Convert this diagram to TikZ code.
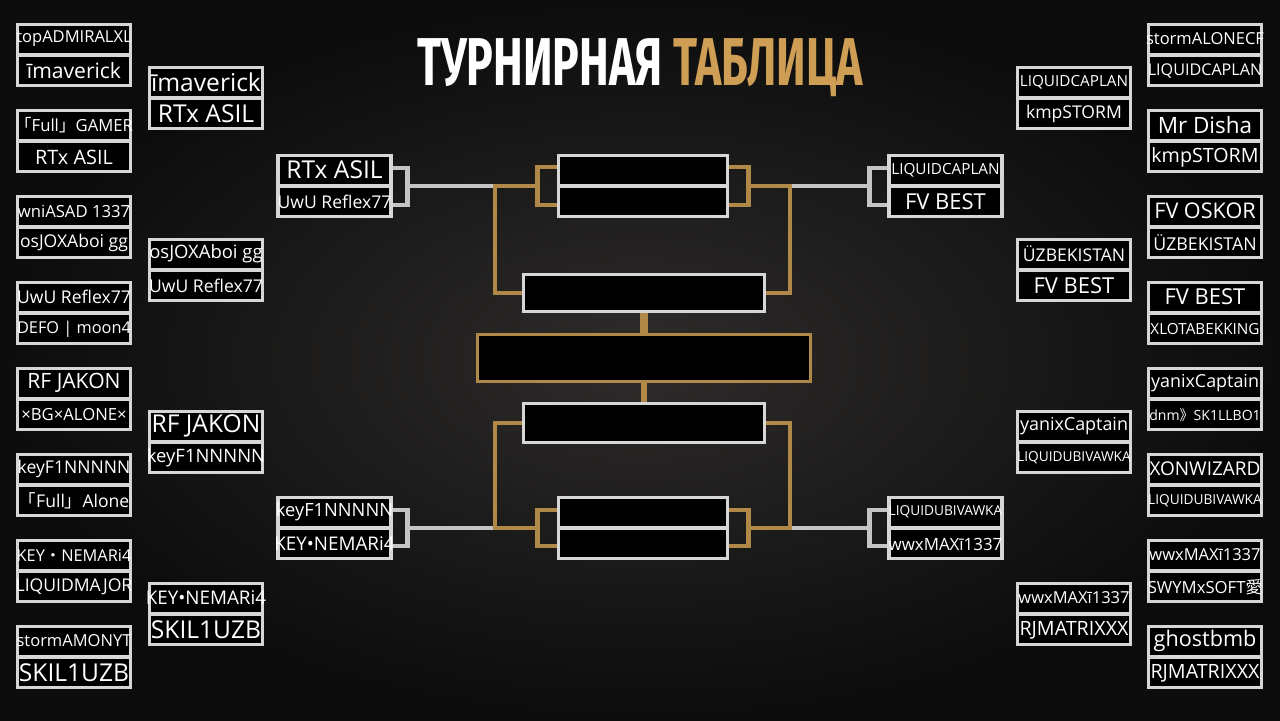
\documentclass[tikz,border=0pt]{standalone}
\usepackage{fontspec}
\usepackage{graphicx}
\setmainfont{Open Sans}
\newfontfamily\cjk{Noto Sans CJK SC}
\newfontfamily\zagl{Fira Sans}
\usetikzlibrary{calc,positioning}
\definecolor{fon}{RGB}{12,12,12}
\definecolor{fonsvet}{RGB}{46,44,43}
\definecolor{kant}{RGB}{214,214,214}
\definecolor{seryj}{RGB}{196,196,196}
\definecolor{zoloto}{RGB}{176,137,72}
\definecolor{zagzol}{RGB}{205,158,84}
\newcommand{\rz}[1]{\fontsize{#1}{#1}\selectfont}
\tikzset{
  para/.style={draw=kant,line width=2pt,fill=black,inner sep=0pt,minimum width=2.26cm,minimum height=1.22cm},
  ramka/.style={draw=kant,line width=2pt,fill=black,inner sep=0pt},
  razd/.style={draw=kant,line width=2pt},
  nik/.style={text=white,inner sep=0pt},
  ser/.style={draw=seryj,line width=2.8pt},
  zol/.style={draw=zoloto,line width=2.8pt},
}
% one match: name, centre (px), upper player, lower player
\newcommand{\igra}[4]{%
  \node[para] (#1) at (#2) {};
  \draw[razd] (#1.west) -- (#1.east);
  \node[nik] at ($(#1.center)+(0,-16)$) {#3};
  \node[nik] at ($(#1.center)+(0,16)$) {#4};
}

\begin{document}
\begin{tikzpicture}[x=0.02cm,y=-0.02cm]
  % fon
  \shade[inner color=fonsvet,outer color=fon] (0,0) rectangle (1280,720);
  \node[inner sep=0pt,text=white,anchor=base] (zag) at (640,85)
    {\resizebox{253.8pt}{26.7pt}{\zagl\bfseries ТУРНИРНАЯ \textcolor{zagzol}{ТАБЛИЦА}}};

  % left, round 1
  \igra{L1}{74,55}{\rz{9.4}topADMIRALXL}{\rz{12}īmaverick}
  \igra{L2}{74,141}{\rz{9.5}{\cjk 「}Full{\cjk 」}GAMER}{\rz{11.3}RTx ASIL}
  \igra{L3}{74,227}{\rz{9.5}wniASAD 1337}{\rz{10}osJOXAboi gg}
  \igra{L4}{74,313}{\rz{10}UwU Reflex77}{\rz{9.3}DEFO | moon4}
  \igra{L5}{74,399}{\rz{12}RF JAKON}{\rz{9.5}×BG×ALONE×}
  \igra{L6}{74,485}{\rz{10}keyF1NNNNN}{\rz{10}{\cjk 「}Full{\cjk 」}Alone}
  \igra{L7}{74,571}{\rz{9.3}KEY{\cjk ・}NEMARi4}{\rz{10}LIQUIDMAJOR}
  \igra{L8}{74,657}{\rz{9.4}stormAMONYT}{\rz{14}SKIL1UZB}
  % left, round 2
  \igra{L9}{206,98}{\rz{14}īmaverick}{\rz{14}RTx ASIL}
  \igra{L10}{206,270}{\rz{10.5}osJOXAboi gg}{\rz{10}UwU Reflex77}
  \igra{L11}{206,442}{\rz{14}RF JAKON}{\rz{10.5}keyF1NNNNN}
  \igra{L12}{206,614}{\rz{10.7}KEY•NEMARi4}{\rz{14}SKIL1UZB}
  % left, round 3
  \igra{L13}{334.5,186}{\rz{14}RTx ASIL}{\rz{10}UwU Reflex77}
  \igra{L14}{334.5,528}{\rz{10.4}keyF1NNNNN}{\rz{10.7}KEY•NEMARi4}

  % right, round 1
  \igra{R1}{1205,55}{\rz{9.4}stormALONECF}{\rz{9.2}LIQUIDCAPLAN}
  \igra{R2}{1205,141}{\rz{12.8}Mr Disha}{\rz{11.2}kmpSTORM}
  \igra{R3}{1205,227}{\rz{12.3}FV OSKOR}{\rz{10.1}ÜZBEKISTAN}
  \igra{R4}{1205,313}{\rz{12.5}FV BEST}{\rz{8.7}XLOTABEKKING}
  \igra{R5}{1205,399}{\rz{10.2}yanixCaptain}{\rz{8}dnm{\cjk 》}SK1LLBO1}
  \igra{R6}{1205,485}{\rz{10.8}XONWIZARD}{\rz{7.8}LIQUIDUBIVAWKA}
  \igra{R7}{1205,571}{\rz{9.4}wwxMAXī1337}{\rz{9.5}SWYMxSOFT{\cjk 愛}}
  \igra{R8}{1205,657}{\rz{12.3}ghostbmb}{\rz{11.2}RJMATRIXXX}
  % right, round 2
  \igra{R9}{1074,98}{\rz{8.7}LIQUIDCAPLAN}{\rz{10}kmpSTORM}
  \igra{R10}{1074,270}{\rz{10}ÜZBEKISTAN}{\rz{12.5}FV BEST}
  \igra{R11}{1074,442}{\rz{10.2}yanixCaptain}{\rz{7.8}LIQUIDUBIVAWKA}
  \igra{R12}{1074,614}{\rz{9.4}wwxMAXī1337}{\rz{11.2}RJMATRIXXX}
  % right, round 3
  \igra{R13}{945.5,186}{\rz{8.7}LIQUIDCAPLAN}{\rz{12.5}FV BEST}
  \igra{R14}{945.5,528}{\rz{7.8}LIQUIDUBIVAWKA}{\rz{9.6}wwxMAXī1337}

  % centre
  \node[ramka,minimum width=3.38cm,minimum height=1.22cm] (p1) at (643,186) {};
  \draw[razd] (p1.west) -- (p1.east);
  \node[ramka,minimum width=4.82cm,minimum height=0.74cm] (f1) at (644,293) {};
  \node[ramka,draw=zoloto,line width=1.6pt,minimum width=6.66cm,minimum height=0.94cm] (fin) at (644,358) {};
  \node[ramka,minimum width=4.82cm,minimum height=0.78cm] (f2) at (644,423) {};
  \node[ramka,minimum width=3.38cm,minimum height=1.22cm] (p2) at (643,528) {};
  \draw[razd] (p2.west) -- (p2.east);

  \coordinate (ul) at (495,186);
  \coordinate (ur) at (790,186);
  \coordinate (dl) at (495,528);
  \coordinate (dr) at (790,528);

  % grey lines from round 3
  \draw[ser] (L13.east) ++(0,-18) -- ++(15,0) -- ++(0,37) -- ++(-15,0);
  \draw[ser] ($(L13.east)+(15,0)$) -- (ul);
  \draw[ser] (L14.east) ++(0,-18) -- ++(15,0) -- ++(0,36) -- ++(-15,0);
  \draw[ser] ($(L14.east)+(15,0)$) -- (dl);
  \draw[ser] (R13.west) ++(0,-18) -- ++(-18,0) -- ++(0,37) -- ++(18,0);
  \draw[ser] ($(R13.west)+(-18,0)$) -- (ur);
  \draw[ser] (R14.west) ++(0,-18) -- ++(-18,0) -- ++(0,36) -- ++(18,0);
  \draw[ser] ($(R14.west)+(-18,0)$) -- (dr);

  % gold lines
  \draw[zol] (p1.west) ++(0,-19) -- ++(-19,0) -- ++(0,38) -- ++(19,0);
  \draw[zol] (p1.east) ++(0,-19) -- ++(19,0) -- ++(0,38) -- ++(-19,0);
  \draw[zol] ($(p1.west)+(-19,0)$) -- (ul) |- (f1.west);
  \draw[zol] ($(p1.east)+(19,0)$) -- (ur) |- (f1.east);
  \draw[zol] (p2.west) ++(0,-18) -- ++(-19,0) -- ++(0,36) -- ++(19,0);
  \draw[zol] (p2.east) ++(0,-18) -- ++(19,0) -- ++(0,36) -- ++(-19,0);
  \draw[zol] ($(p2.west)+(-19,0)$) -- (dl) |- (f2.west);
  \draw[zol] ($(p2.east)+(19,0)$) -- (dr) |- (f2.east);
  \draw[zoloto,line width=4.5pt] (f1.south) -- (fin.north);
  \draw[zoloto,line width=3.4pt] (fin.south) -- (f2.north);
\end{tikzpicture}
\end{document}
